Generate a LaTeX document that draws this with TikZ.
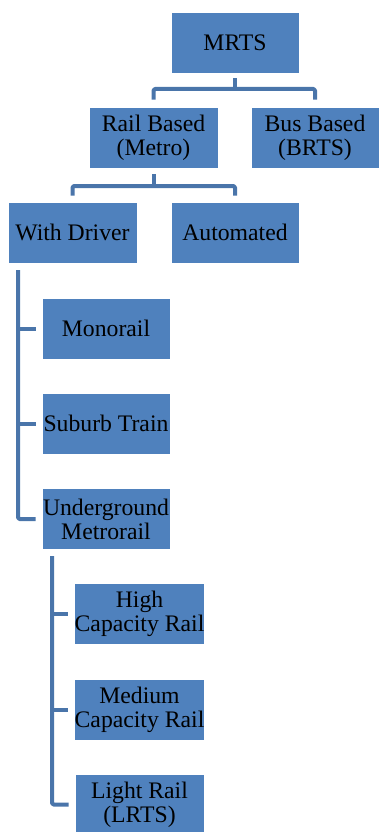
\documentclass[tikz,border=0pt]{standalone}
\usepackage{fontspec}
\setmainfont{Liberation Serif}
\definecolor{boxfill}{HTML}{4F81BD}
\definecolor{connc}{HTML}{4A75AA}
\begin{document}
\begin{tikzpicture}[x=1pt,y=-1pt,
  box/.style={rectangle,fill=boxfill,draw=white,line width=0.6pt,minimum width=128pt,minimum height=61pt,inner sep=0pt,align=center,text=black,font=\fontsize{23.7}{24}\selectfont},
  conn/.style={draw=connc,line width=4pt,line join=round,rounded corners=1.5pt}]
\useasboundingbox (0,0) rectangle (379,832);
\node[box] (mrts) at (235,42.5) {MRTS};
\node[box,minimum width=129pt] (rail) at (153.5,137.5) {Rail Based\\(Metro)};
\node[box] (bus) at (315,137.5) {Bus Based\\(BRTS)};
\node[box,minimum width=129pt] (wd) at (72.5,232.5) {With Driver};
\node[box] (auto) at (235,232.5) {Automated};
\node[box] (mono) at (106,328.5) {Monorail};
\node[box] (sub) at (106,423.5) {Suburb Train};
\node[box] (ug) at (106,519) {Underground\\Metrorail};
\node[box,minimum width=129pt] (high) at (139.5,614) {High\\Capacity Rail};
\node[box,minimum width=129pt] (med) at (139.5,709.5) {Medium\\Capacity Rail};
\node[box,minimum width=129pt] (light) at (139.5,804.5) {Light Rail\\(LRTS)};
% tree connectors
\coordinate (h1) at (0,89);
\coordinate (h2) at (0,186);
\draw[conn] ([yshift=-5pt]mrts.south) -- (mrts.south|-h1);
\draw[conn] ([yshift=7pt]rail.north) -- (rail.north|-h1) -- (bus.north|-h1) -- ([yshift=7pt]bus.north);
\draw[conn] ([yshift=-6pt]rail.south) -- (rail.south|-h2);
\draw[conn] ([yshift=6pt]wd.north) -- (wd.north|-h2) -- (auto.north|-h2) -- ([yshift=6pt]auto.north);
% hanging connectors
\coordinate (t1) at (18,270);
\draw[conn] (t1) -- (t1|-ug.west) -- ([xshift=-6pt]ug.west);
\draw[conn] (t1|-mono.west) -- ([xshift=-6pt]mono.west);
\draw[conn] (t1|-sub.west) -- ([xshift=-6pt]sub.west);
\coordinate (t2) at (52,556);
\draw[conn] (t2) -- (t2|-light.west) -- ([xshift=-6pt]light.west);
\draw[conn] (t2|-high.west) -- ([xshift=-6pt]high.west);
\draw[conn] (t2|-med.west) -- ([xshift=-6pt]med.west);
\end{tikzpicture}
\end{document}
